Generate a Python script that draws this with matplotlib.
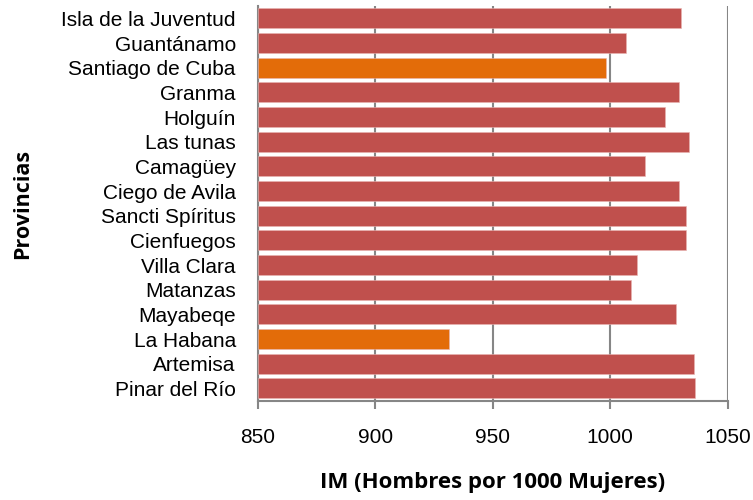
import matplotlib.pyplot as plt
import numpy as np

# Data (top to bottom as shown)
provincias = ["Isla de la Juventud", "Guantánamo", "Santiago de Cuba", "Granma",
              "Holguín", "Las tunas", "Camagüey", "Ciego de Avila",
              "Sancti Spíritus", "Cienfuegos", "Villa Clara", "Matanzas",
              "Mayabeqe", "La Habana", "Artemisa", "Pinar del Río"]
im_values = [1030.0, 1006.7, 998.2, 1029.2, 1023.2, 1033.7, 1014.7, 1029.3,
             1032.4, 1032.1, 1011.3, 1009.0, 1028.2, 931.2, 1035.5, 1036.1]
destacadas = ["Santiago de Cuba", "La Habana"]
x_ticks = [850, 900, 950, 1000, 1050]

RED = "#C0504D"
ORANGE = "#E36C09"
GRID = "#868686"

plt.rcParams['font.family'] = ['Liberation Sans', 'DejaVu Sans']

fig = plt.figure(figsize=(7.53, 5.0), dpi=100)
ax = fig.add_axes([0.3426, 0.1986, 0.6238, 0.7894])

y = np.arange(len(provincias))[::-1]
colors = [ORANGE if p in destacadas else RED for p in provincias]
base = x_ticks[0]
ax.barh(y, [v - base for v in im_values], left=base, height=0.81,
        color=colors, edgecolor="#E8B4B3", linewidth=0.4, zorder=3)

ax.set_xlim(x_ticks[0], x_ticks[-1])
ax.set_ylim(-0.5, len(provincias) - 0.5)
ax.set_xticks(x_ticks)
ax.set_yticks(y)
ax.set_yticklabels(provincias, fontsize=15)
ax.tick_params(axis='x', labelsize=15, direction='out', length=6, width=1.5,
               color=GRID, pad=14)
ax.tick_params(axis='y', length=0, pad=16)

ax.grid(axis='x', color=GRID, linewidth=1.5, zorder=0)
for s in ['top', 'right']:
    ax.spines[s].set_visible(False)
for s in ['left', 'bottom']:
    ax.spines[s].set_color(GRID)
    ax.spines[s].set_linewidth(1.5)

ax.set_xlabel("IM (Hombres por 1000 Mujeres)", fontsize=16, fontweight='bold',
              family=['Open Sans', 'DejaVu Sans'], labelpad=18)
fig.text(0.03, 0.593, "Provincias", rotation=90, fontsize=15.5, fontweight='bold',
         family=['Open Sans', 'DejaVu Sans'], ha='center', va='center')

fig.savefig("out.png", dpi=100)
